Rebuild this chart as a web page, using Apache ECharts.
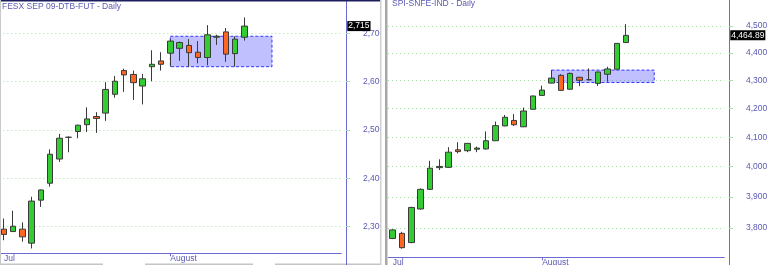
<!DOCTYPE html>
<html><head><meta charset="utf-8">
<script src="https://cdn.jsdelivr.net/npm/echarts@6/dist/echarts.min.js"></script>
<style>html,body{margin:0;padding:0;background:#fff}#c{width:770px;height:265px}</style>
</head><body><div id="c"></div>
<script>
// ---------- FESX SEP 09 (left panel) ----------
const fesxDates = ['2009-07-08','2009-07-09','2009-07-10','2009-07-13','2009-07-14','2009-07-15','2009-07-16','2009-07-17','2009-07-20','2009-07-21','2009-07-22','2009-07-23','2009-07-24','2009-07-27','2009-07-28','2009-07-29','2009-07-30','2009-07-31','2009-08-03','2009-08-04','2009-08-05','2009-08-06','2009-08-07','2009-08-10','2009-08-11','2009-08-12','2009-08-13','2009-08-14','2009-08-17','2009-08-18','2009-08-19','2009-08-20','2009-08-21','2009-08-24','2009-08-25','2009-08-26','2009-08-27'];
const fesxOpen  = [2295,2290,2295,2266,2355,2390,2440,2485,2497,2511,2528,2535,2574,2623,2615,2591,2631,2643,2659,2669,2675,2661,2650,2692,2703,2658,2692];
const fesxClose = [2284,2301,2279,2353,2376,2450,2483,2485,2510,2523,2524,2584,2601,2614,2598,2606,2636,2636,2684,2681,2660,2650,2697,2694,2657,2688,2715];
const fesxLow   = [2272,2289,2269,2255,2341,2383,2434,2454,2483,2496,2494,2519,2567,2579,2562,2553,2601,2623,2631,2643,2631,2638,2634,2676,2641,2631,2685];
const fesxHigh  = [2317,2333,2309,2362,2377,2460,2492,2487,2511,2547,2537,2599,2612,2627,2623,2616,2665,2661,2688,2683,2688,2684,2717,2697,2711,2694,2733];
const fesxZone  = [18, 29, 2631, 2694];   // from index, to index, bottom, top
const fesxTicks = [2300, 2400, 2500, 2600, 2700];

// ---------- SPI-SNFE-IND (right panel) ----------
const spiDates = ['2009-07-10','2009-07-13','2009-07-14','2009-07-15','2009-07-16','2009-07-17','2009-07-20','2009-07-21','2009-07-22','2009-07-23','2009-07-24','2009-07-27','2009-07-28','2009-07-29','2009-07-30','2009-07-31','2009-08-03','2009-08-04','2009-08-05','2009-08-06','2009-08-07','2009-08-10','2009-08-11','2009-08-12','2009-08-13','2009-08-14','2009-08-17','2009-08-18','2009-08-19','2009-08-20','2009-08-21','2009-08-24','2009-08-25','2009-08-26','2009-08-27','2009-08-28'];
const spiOpen  = [3767,3783,3754,3861,3925,3997,3998,4057,4054,4059,4060,4088,4139,4158,4136,4197,4246,4290,4318,4268,4311,4302,4289,4322,4340,4438];
const spiClose = [3794,3738,3866,3925,3995,4001,4049,4051,4079,4063,4088,4140,4169,4143,4191,4244,4265,4308,4264,4325,4300,4302,4330,4341,4435,4464.89];
const spiLow   = [3765,3735,3752,3859,3923,3989,3996,4045,4049,4049,4058,4087,4138,4139,4135,4196,4245,4289,4263,4267,4279,4301,4280,4295,4339,4437];
const spiHigh  = [3796,3788,3868,3928,4020,4025,4066,4083,4080,4068,4120,4154,4177,4180,4203,4245,4281,4337,4322,4328,4312,4343,4331,4349,4436,4507];
const spiZone  = [17, 28, 4292, 4337];
const spiTicks = [3800, 3900, 4000, 4100, 4200, 4300, 4400, 4500];

const monthNames = {'07': 'Jul', '08': 'August'};
const titles = ['FESX SEP 09-DTB-FUT - Daily', 'SPI-SNFE-IND - Daily'];

// ---------- styling ----------
const FONT = '"Liberation Sans", Arial, sans-serif';
const FS = 8.5;
const AXIS = '#6a6ad0';
const LABEL = '#5a5ab4';
const GRIDC = '#9ee09e';
const UP = '#33cc33', DOWN = '#ff6622', EDGE = '#3a3a3a';

function firstOfMonthIdx(dates, n) {
  const s = new Set();
  let prev = null;
  for (let i = 0; i < n; i++) { const m = dates[i].slice(5, 7); if (m !== prev) s.add(i); prev = m; }
  return s;
}
const fesxFirst = firstOfMonthIdx(fesxDates, fesxOpen.length);
const spiFirst = firstOfMonthIdx(spiDates, spiOpen.length);
const fmt = v => Number(v).toLocaleString('en-US');

function xAxisCfg(gi, dates, firstSet) {
  return {
    type: 'category', gridIndex: gi, data: dates, boundaryGap: true,
    axisLine: { lineStyle: { color: AXIS, width: 1 } },
    axisTick: { show: true, alignWithLabel: true, length: 3, lineStyle: { color: AXIS },
      interval: (i) => i > 0 && firstSet.has(i) },
    axisLabel: { interval: (i) => firstSet.has(i), align: 'left', margin: 1,
      color: LABEL, fontSize: FS, fontFamily: FONT,
      formatter: (v) => monthNames[v.slice(5, 7)] },
    splitLine: { show: false }
  };
}
function yAxisCfg(gi, type, min, max, ticks) {
  return {
    type: type, gridIndex: gi, position: 'right', offset: 4.7, min: min, max: max, scale: true,
    axisLine: { show: true, lineStyle: { color: AXIS, width: 1 } },
    axisTick: { show: true, inside: false, length: 4, lineStyle: { color: GRIDC }, customValues: ticks },
    axisLabel: { margin: 17, color: LABEL, fontSize: FS, fontFamily: FONT, formatter: fmt, customValues: ticks },
    splitLine: { show: true, lineStyle: { color: GRIDC, type: [1, 3], width: 1 } },
    minorTick: { show: false }, minorSplitLine: { show: false }
  };
}
function series(gi, dates, o, c, l, h, zone, lastLabel) {
  return {
    type: 'candlestick', xAxisIndex: gi, yAxisIndex: gi, barWidth: 6, clip: false,
    data: o.map((v, i) => [v, c[i], l[i], h[i]]),
    itemStyle: { color: UP, color0: DOWN, borderColor: EDGE, borderColor0: EDGE, borderWidth: 1 },
    markArea: {
      silent: true, label: { show: false },
      itemStyle: { color: 'rgba(90,90,255,0.38)', borderColor: '#3333ff', borderWidth: 1, borderType: [3, 2] },
      data: [[{ coord: [dates[zone[0]], zone[3]] }, { coord: [dates[zone[1]], zone[2]] }]]
    },
    markLine: {
      silent: true, symbol: ['none', 'none'], animation: false,
      lineStyle: { width: 0, color: 'rgba(0,0,0,0)', type: 'solid' },
      label: { show: true, position: 'end', distance: 6, color: '#fff', backgroundColor: '#000',
        padding: [1, 1, 0, 1], fontSize: FS, fontFamily: FONT, formatter: () => lastLabel },
      data: [{ yAxis: c[c.length - 1] }]
    }
  };
}

const chart = echarts.init(document.getElementById('c'), null, { renderer: 'canvas' });
chart.setOption({
  animation: false,
  backgroundColor: '#fff',
  title: [
    { text: titles[0], left: 2, top: 2, textStyle: { color: LABEL, fontSize: FS, fontWeight: 'normal', fontFamily: FONT }, padding: 0 },
    { text: titles[1], left: 392, top: -1, textStyle: { color: LABEL, fontSize: FS, fontWeight: 'normal', fontFamily: FONT }, padding: 0 }
  ],
  grid: [
    { left: -0.62, width: 341.9, top: 0, bottom: 11.7, outerBoundsMode: 'none', containLabel: false },
    { left: 388.03, width: 336.24, top: 0, bottom: 7.7, outerBoundsMode: 'none', containLabel: false }
  ],
  xAxis: [xAxisCfg(0, fesxDates, fesxFirst), xAxisCfg(1, spiDates, spiFirst)],
  yAxis: [yAxisCfg(0, 'value', 2245, 2769, fesxTicks), yAxisCfg(1, 'log', 3708, 4599, spiTicks)],
  series: [
    series(0, fesxDates, fesxOpen, fesxClose, fesxLow, fesxHigh, fesxZone, fmt(fesxClose[fesxClose.length - 1])),
    series(1, spiDates, spiOpen, spiClose, spiLow, spiHigh, spiZone,
      spiClose[spiClose.length - 1].toLocaleString('en-US', { minimumFractionDigits: 2, maximumFractionDigits: 2 }))
  ],
  graphic: [
    { type: 'rect', z: 100, shape: { x: 0, y: 0, width: 380, height: 1.5 }, style: { fill: '#1e1e5e' } },
    { type: 'rect', z: 100, shape: { x: 0, y: 0, width: 1, height: 265 }, style: { fill: '#c8c8c8' } },
    { type: 'rect', z: 100, shape: { x: 380, y: 0, width: 8, height: 265 }, style: { fill: '#fff' } },
    { type: 'rect', z: 101, shape: { x: 380, y: 0, width: 1.5, height: 265 }, style: { fill: '#d0d0d0' } },
    { type: 'rect', z: 101, shape: { x: 385, y: 0, width: 2.5, height: 265 }, style: { fill: '#a8a8a8' } },
    { type: 'rect', z: 100, shape: { x: 0, y: 263.5, width: 103, height: 1.5 }, style: { fill: '#c4c4c4' } },
    { type: 'rect', z: 100, shape: { x: 145, y: 263.5, width: 108, height: 1.5 }, style: { fill: '#c4c4c4' } },
    { type: 'rect', z: 100, shape: { x: 275, y: 263.5, width: 105, height: 1.5 }, style: { fill: '#c4c4c4' } },
    { type: 'line', z: 100, shape: { x1: 346.5, y1: 253, x2: 346.5, y2: 265 }, style: { stroke: AXIS, lineWidth: 1 } },
    { type: 'line', z: 100, shape: { x1: 729.5, y1: 257, x2: 729.5, y2: 265 }, style: { stroke: AXIS, lineWidth: 1 } }
  ]
});
</script></body></html>
